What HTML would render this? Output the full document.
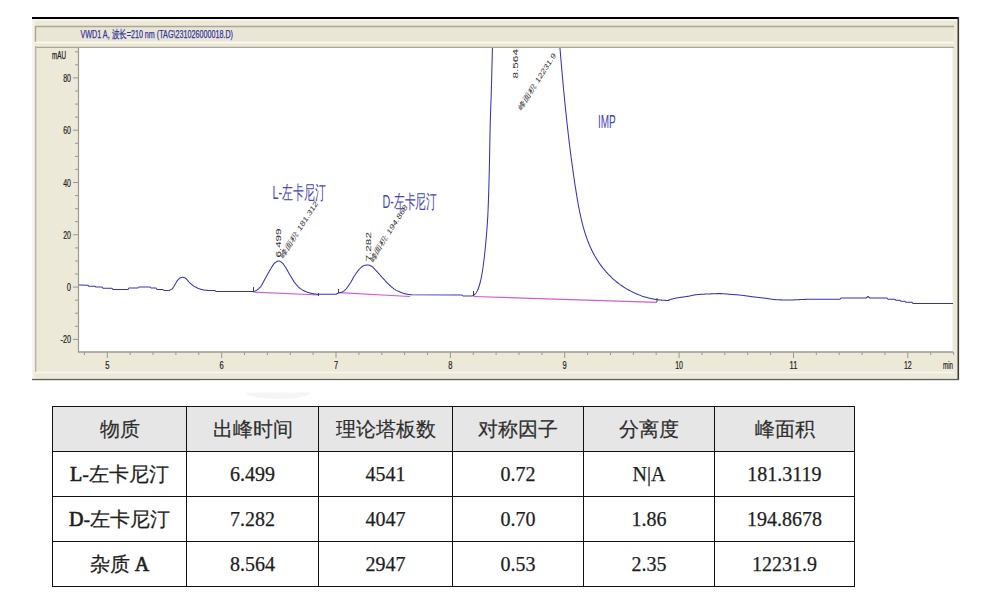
<!DOCTYPE html>
<html><head><meta charset="utf-8">
<style>
html,body{margin:0;padding:0;background:#fff;width:1003px;height:596px;overflow:hidden;position:relative}
svg{position:absolute;left:0;top:0}
.tb{position:absolute;left:52px;top:406px;border-collapse:collapse;font-family:"Liberation Serif",serif;color:#1e1e1e;-webkit-text-stroke:0.25px #1e1e1e}
.tb td{border:1.5px solid #111;height:45px;padding:0;text-align:center;font-size:20px;box-sizing:border-box}
.tb tr.h td{background:#e6e6e6;color:#2e2e2e;-webkit-text-stroke:0.2px #2e2e2e}
.tb .k{-webkit-text-stroke:0.7px #1e1e1e}
</style></head><body>
<svg width="1003" height="596" viewBox="0 0 1003 596">
<rect x="32" y="17" width="927" height="363" fill="#ece9d8"/>
<rect x="32" y="19" width="925" height="2" fill="#f6f4ea"/>
<rect x="32" y="19" width="2.5" height="360" fill="#f6f4ea"/>
<rect x="32" y="17" width="927" height="2" fill="#000"/>
<rect x="957.5" y="17" width="1.6" height="363" fill="#3c3c34"/>
<rect x="32" y="378.9" width="927" height="1.3" fill="#5e5e56"/>
<rect x="35.5" y="26.5" width="918" height="15" fill="#e9e6d6" stroke="none"/>
<line x1="35" y1="26.5" x2="954" y2="26.5" stroke="#aca899" stroke-width="1.5"/>
<line x1="35.5" y1="26" x2="35.5" y2="42" stroke="#aca899" stroke-width="1.5"/>
<line x1="35" y1="42.5" x2="954" y2="42.5" stroke="#fbfaf3" stroke-width="1.5"/>
<line x1="35" y1="47.4" x2="954" y2="47.4" stroke="#aca899" stroke-width="1.4"/>
<line x1="35.7" y1="46" x2="35.7" y2="372" stroke="#b9b6a8" stroke-width="1.5"/>
<line x1="35" y1="372.5" x2="954" y2="372.5" stroke="#f8f7ef" stroke-width="1.5"/>
<rect x="78.5" y="48.1" width="874" height="303.9" fill="#fff"/>
<line x1="78.5" y1="48" x2="78.5" y2="352.5" stroke="#9a9a92" stroke-width="1.2"/>
<line x1="78" y1="352" x2="953" y2="352" stroke="#9a9a92" stroke-width="1.5"/>
<g stroke="#999990" stroke-width="1">
<line x1="75" y1="51.8" x2="78" y2="51.8"/>
<line x1="75" y1="64.8" x2="78" y2="64.8"/>
<line x1="73" y1="77.9" x2="78" y2="77.9"/>
<line x1="75" y1="91.0" x2="78" y2="91.0"/>
<line x1="75" y1="104.1" x2="78" y2="104.1"/>
<line x1="75" y1="117.1" x2="78" y2="117.1"/>
<line x1="73" y1="130.2" x2="78" y2="130.2"/>
<line x1="75" y1="143.3" x2="78" y2="143.3"/>
<line x1="75" y1="156.4" x2="78" y2="156.4"/>
<line x1="75" y1="169.4" x2="78" y2="169.4"/>
<line x1="73" y1="182.5" x2="78" y2="182.5"/>
<line x1="75" y1="195.6" x2="78" y2="195.6"/>
<line x1="75" y1="208.7" x2="78" y2="208.7"/>
<line x1="75" y1="221.7" x2="78" y2="221.7"/>
<line x1="73" y1="234.8" x2="78" y2="234.8"/>
<line x1="75" y1="247.9" x2="78" y2="247.9"/>
<line x1="75" y1="261.0" x2="78" y2="261.0"/>
<line x1="75" y1="274.0" x2="78" y2="274.0"/>
<line x1="73" y1="287.1" x2="78" y2="287.1"/>
<line x1="75" y1="300.2" x2="78" y2="300.2"/>
<line x1="75" y1="313.2" x2="78" y2="313.2"/>
<line x1="75" y1="326.3" x2="78" y2="326.3"/>
<line x1="73" y1="339.4" x2="78" y2="339.4"/>
<line x1="84.4" y1="352" x2="84.4" y2="355"/>
<line x1="107.3" y1="352" x2="107.3" y2="358"/>
<line x1="130.2" y1="352" x2="130.2" y2="355"/>
<line x1="153.0" y1="352" x2="153.0" y2="355"/>
<line x1="175.9" y1="352" x2="175.9" y2="355"/>
<line x1="198.8" y1="352" x2="198.8" y2="355"/>
<line x1="221.7" y1="352" x2="221.7" y2="358"/>
<line x1="244.5" y1="352" x2="244.5" y2="355"/>
<line x1="267.4" y1="352" x2="267.4" y2="355"/>
<line x1="290.3" y1="352" x2="290.3" y2="355"/>
<line x1="313.1" y1="352" x2="313.1" y2="355"/>
<line x1="336.0" y1="352" x2="336.0" y2="358"/>
<line x1="358.9" y1="352" x2="358.9" y2="355"/>
<line x1="381.8" y1="352" x2="381.8" y2="355"/>
<line x1="404.6" y1="352" x2="404.6" y2="355"/>
<line x1="427.5" y1="352" x2="427.5" y2="355"/>
<line x1="450.4" y1="352" x2="450.4" y2="358"/>
<line x1="473.3" y1="352" x2="473.3" y2="355"/>
<line x1="496.1" y1="352" x2="496.1" y2="355"/>
<line x1="519.0" y1="352" x2="519.0" y2="355"/>
<line x1="541.9" y1="352" x2="541.9" y2="355"/>
<line x1="564.7" y1="352" x2="564.7" y2="358"/>
<line x1="587.6" y1="352" x2="587.6" y2="355"/>
<line x1="610.5" y1="352" x2="610.5" y2="355"/>
<line x1="633.4" y1="352" x2="633.4" y2="355"/>
<line x1="656.2" y1="352" x2="656.2" y2="355"/>
<line x1="679.1" y1="352" x2="679.1" y2="358"/>
<line x1="702.0" y1="352" x2="702.0" y2="355"/>
<line x1="724.8" y1="352" x2="724.8" y2="355"/>
<line x1="747.7" y1="352" x2="747.7" y2="355"/>
<line x1="770.6" y1="352" x2="770.6" y2="355"/>
<line x1="793.5" y1="352" x2="793.5" y2="358"/>
<line x1="816.3" y1="352" x2="816.3" y2="355"/>
<line x1="839.2" y1="352" x2="839.2" y2="355"/>
<line x1="862.1" y1="352" x2="862.1" y2="355"/>
<line x1="884.9" y1="352" x2="884.9" y2="355"/>
<line x1="907.8" y1="352" x2="907.8" y2="358"/>
<line x1="930.7" y1="352" x2="930.7" y2="355"/>
<line x1="953.6" y1="352" x2="953.6" y2="355"/>
</g>
<text x="80.5" y="38.2" font-family="Liberation Sans" font-size="10.5" fill="#3434a0" stroke="#3434a0" stroke-width="0.25" textLength="152.5" lengthAdjust="spacingAndGlyphs">VWD1 A, 波长=210 nm (TAG\231026000018.D)</text>
<g font-family="Liberation Sans" font-size="11" fill="#222" stroke="#222" stroke-width="0.2">
<text x="63.2" y="81.9" textLength="7.8" lengthAdjust="spacingAndGlyphs">80</text>
<text x="63.2" y="134.2" textLength="7.8" lengthAdjust="spacingAndGlyphs">60</text>
<text x="63.2" y="186.5" textLength="7.8" lengthAdjust="spacingAndGlyphs">40</text>
<text x="63.2" y="238.8" textLength="7.8" lengthAdjust="spacingAndGlyphs">20</text>
<text x="66.8" y="291.1" textLength="4.2" lengthAdjust="spacingAndGlyphs">0</text>
<text x="60.5" y="343.4" textLength="10.5" lengthAdjust="spacingAndGlyphs">-20</text>
</g>
<text x="52" y="59" font-family="Liberation Sans" font-size="10" fill="#222" stroke="#222" stroke-width="0.25" textLength="14" lengthAdjust="spacingAndGlyphs">mAU</text>
<g font-family="Liberation Sans" font-size="10.5" fill="#222" stroke="#222" stroke-width="0.2">
<text x="105.2" y="369" textLength="4.2" lengthAdjust="spacingAndGlyphs">5</text>
<text x="219.6" y="369" textLength="4.2" lengthAdjust="spacingAndGlyphs">6</text>
<text x="333.9" y="369" textLength="4.2" lengthAdjust="spacingAndGlyphs">7</text>
<text x="448.3" y="369" textLength="4.2" lengthAdjust="spacingAndGlyphs">8</text>
<text x="562.6" y="369" textLength="4.2" lengthAdjust="spacingAndGlyphs">9</text>
<text x="675.2" y="369" textLength="7.8" lengthAdjust="spacingAndGlyphs">10</text>
<text x="789.6" y="369" textLength="7.8" lengthAdjust="spacingAndGlyphs">11</text>
<text x="903.9" y="369" textLength="7.8" lengthAdjust="spacingAndGlyphs">12</text>
</g>
<text x="943" y="369" font-family="Liberation Sans" font-size="10" fill="#222" stroke="#222" stroke-width="0.2" textLength="10" lengthAdjust="spacingAndGlyphs">min</text>
<g stroke="#d35cd3" stroke-width="1.2" fill="none">
<polyline points="253,292 319,295"/>
<polyline points="338.6,292.6 410,296.5"/>
<polyline points="473.5,296.5 657,302.3"/>
</g>
<g stroke="#444" stroke-width="1">
<line x1="253.5" y1="287" x2="253.5" y2="292"/>
<line x1="318.5" y1="293" x2="318.5" y2="296"/>
<line x1="338.5" y1="289" x2="338.5" y2="293"/>
<line x1="473.5" y1="291" x2="473.5" y2="296"/>
<line x1="657" y1="298" x2="657" y2="302"/>
</g>
<clipPath id="pc"><rect x="79" y="48" width="874" height="304"/></clipPath>
<path clip-path="url(#pc)" d="M78.00,285.00 L88.00,285.30 L89.00,286.30 L95.00,286.30 L96.00,287.00 L102.00,287.00 L103.00,288.30 L112.00,288.30 L113.00,289.50 L128.00,289.50 L129.00,288.00 L138.00,288.00 L139.00,287.00 L150.00,287.00 L151.00,288.00 L156.00,288.00 L157.00,289.50 L163.00,289.50 L164.00,290.50 L168.00,290.50 L168.00,290.50 L168.50,290.47 L169.00,290.38 L169.50,290.24 L170.00,290.06 L170.50,289.84 L171.00,289.58 L171.50,289.30 L172.00,289.00 L172.50,288.56 L173.00,287.90 L173.50,287.09 L174.00,286.21 L174.50,285.32 L175.00,284.50 L175.50,283.69 L176.00,282.83 L176.50,281.97 L177.00,281.14 L177.50,280.41 L178.00,279.80 L178.50,279.29 L179.00,278.81 L179.50,278.39 L180.00,278.04 L180.50,277.80 L181.00,277.62 L181.50,277.46 L182.00,277.34 L182.50,277.30 L183.00,277.34 L183.50,277.45 L184.00,277.61 L184.50,277.80 L185.00,278.00 L185.50,278.27 L186.00,278.65 L186.50,279.11 L187.00,279.64 L187.50,280.22 L188.00,280.82 L188.50,281.41 L189.00,281.99 L189.50,282.53 L190.00,283.00 L190.50,283.43 L191.00,283.86 L191.50,284.28 L192.00,284.69 L192.50,285.09 L193.00,285.48 L193.50,285.84 L194.00,286.19 L194.50,286.51 L195.00,286.80 L195.50,287.07 L196.00,287.33 L196.50,287.59 L197.00,287.82 L197.50,288.05 L198.00,288.27 L198.50,288.47 L199.00,288.66 L199.50,288.84 L200.00,289.00 L200.50,289.16 L201.00,289.31 L201.50,289.46 L202.00,289.59 L202.50,289.72 L203.00,289.83 L203.50,289.92 L204.00,290.00 L204.50,290.06 L205.00,290.13 L205.50,290.19 L206.00,290.24 L206.50,290.30 L207.00,290.35 L207.50,290.39 L208.00,290.43 L208.50,290.46 L209.00,290.48 L209.50,290.50 L210.00,290.50 L210.50,290.50 L211.00,290.50 L211.50,290.50 L212.00,290.50 L212.50,290.50 L213.00,290.50 L213.50,290.50 L214.00,290.50 L214.50,290.50 L215.00,290.50 L216.00,291.50 L253.00,291.50 L253.00,291.50 L253.50,291.42 L254.00,291.31 L254.50,291.16 L255.00,291.00 L255.50,290.81 L256.00,290.57 L256.50,290.30 L257.00,290.00 L257.50,289.65 L258.00,289.28 L258.50,288.88 L259.00,288.44 L259.50,287.98 L260.00,287.50 L260.50,286.94 L261.00,286.26 L261.50,285.49 L262.00,284.63 L262.50,283.72 L263.00,282.77 L263.50,281.81 L264.00,280.84 L264.50,279.90 L265.00,279.00 L265.50,278.11 L266.00,277.20 L266.50,276.27 L267.00,275.34 L267.50,274.41 L268.00,273.48 L268.50,272.57 L269.00,271.68 L269.50,270.82 L270.00,270.00 L270.50,269.18 L271.00,268.35 L271.50,267.50 L272.00,266.67 L272.50,265.86 L273.00,265.10 L273.50,264.39 L274.00,263.76 L274.50,263.23 L275.00,262.80 L275.50,262.43 L276.00,262.07 L276.50,261.73 L277.00,261.44 L277.50,261.21 L278.00,261.05 L278.50,261.00 L279.00,261.05 L279.50,261.18 L280.00,261.38 L280.50,261.63 L281.00,261.93 L281.50,262.26 L282.00,262.60 L282.50,263.03 L283.00,263.59 L283.50,264.26 L284.00,264.99 L284.50,265.75 L285.00,266.50 L285.50,267.25 L286.00,268.05 L286.50,268.89 L287.00,269.75 L287.50,270.63 L288.00,271.52 L288.50,272.41 L289.00,273.29 L289.50,274.16 L290.00,275.00 L290.50,275.83 L291.00,276.68 L291.50,277.54 L292.00,278.39 L292.50,279.23 L293.00,280.06 L293.50,280.85 L294.00,281.62 L294.50,282.33 L295.00,283.00 L295.50,283.63 L296.00,284.25 L296.50,284.85 L297.00,285.42 L297.50,285.98 L298.00,286.51 L298.50,287.01 L299.00,287.47 L299.50,287.91 L300.00,288.30 L300.50,288.66 L301.00,289.01 L301.50,289.34 L302.00,289.65 L302.50,289.94 L303.00,290.22 L303.50,290.48 L304.00,290.73 L304.50,290.97 L305.00,291.20 L305.50,291.42 L306.00,291.63 L306.50,291.83 L307.00,292.03 L307.50,292.22 L308.00,292.39 L308.50,292.56 L309.00,292.72 L309.50,292.87 L310.00,293.00 L310.50,293.13 L311.00,293.25 L311.50,293.37 L312.00,293.49 L312.50,293.59 L313.00,293.69 L313.50,293.79 L314.00,293.87 L314.50,293.94 L315.00,294.00 L315.50,294.05 L316.00,294.10 L316.50,294.15 L317.00,294.19 L317.50,294.23 L318.00,294.26 L318.50,294.29 L319.00,294.30 L336.00,294.30 L336.00,294.30 L336.50,294.01 L337.00,293.74 L337.50,293.48 L338.00,293.25 L338.50,293.04 L339.00,292.86 L339.50,292.72 L340.00,292.59 L340.50,292.47 L341.00,292.34 L341.50,292.18 L342.00,292.00 L342.50,291.77 L343.00,291.49 L343.50,291.17 L344.00,290.81 L344.50,290.42 L345.00,290.00 L345.50,289.54 L346.00,289.01 L346.50,288.43 L347.00,287.80 L347.50,287.13 L348.00,286.44 L348.50,285.72 L349.00,284.98 L349.50,284.24 L350.00,283.50 L350.50,282.73 L351.00,281.91 L351.50,281.05 L352.00,280.15 L352.50,279.25 L353.00,278.35 L353.50,277.45 L354.00,276.59 L354.50,275.77 L355.00,275.00 L355.50,274.26 L356.00,273.53 L356.50,272.81 L357.00,272.10 L357.50,271.42 L358.00,270.76 L358.50,270.13 L359.00,269.54 L359.50,269.00 L360.00,268.50 L360.50,268.02 L361.00,267.54 L361.50,267.07 L362.00,266.64 L362.50,266.24 L363.00,265.91 L363.50,265.66 L364.00,265.50 L364.50,265.40 L365.00,265.30 L365.50,265.22 L366.00,265.14 L366.50,265.08 L367.00,265.04 L367.50,265.01 L368.00,265.00 L368.50,265.03 L369.00,265.13 L369.50,265.28 L370.00,265.47 L370.50,265.70 L371.00,265.95 L371.50,266.22 L372.00,266.50 L372.50,266.84 L373.00,267.29 L373.50,267.82 L374.00,268.38 L374.50,268.95 L375.00,269.50 L375.50,270.03 L376.00,270.56 L376.50,271.11 L377.00,271.66 L377.50,272.21 L378.00,272.77 L378.50,273.33 L379.00,273.89 L379.50,274.45 L380.00,275.00 L380.50,275.55 L381.00,276.11 L381.50,276.67 L382.00,277.23 L382.50,277.78 L383.00,278.34 L383.50,278.89 L384.00,279.43 L384.50,279.97 L385.00,280.50 L385.50,281.02 L386.00,281.55 L386.50,282.07 L387.00,282.59 L387.50,283.10 L388.00,283.60 L388.50,284.10 L389.00,284.58 L389.50,285.05 L390.00,285.50 L390.50,285.94 L391.00,286.39 L391.50,286.82 L392.00,287.25 L392.50,287.67 L393.00,288.08 L393.50,288.46 L394.00,288.83 L394.50,289.18 L395.00,289.50 L395.50,289.80 L396.00,290.09 L396.50,290.36 L397.00,290.62 L397.50,290.87 L398.00,291.11 L398.50,291.34 L399.00,291.57 L399.50,291.79 L400.00,292.00 L400.50,292.21 L401.00,292.42 L401.50,292.63 L402.00,292.83 L402.50,293.02 L403.00,293.20 L403.50,293.36 L404.00,293.50 L404.50,293.63 L405.00,293.75 L405.50,293.87 L406.00,293.98 L406.50,294.08 L407.00,294.18 L407.50,294.27 L408.00,294.36 L408.50,294.43 L409.00,294.50 L409.50,294.56 L410.00,294.62 L410.50,294.68 L411.00,294.72 L411.50,294.77 L412.00,294.80 L462.00,295.00 L463.00,296.00 L472.00,296.00 L472.00,296.00 L473.16,295.50 L473.99,295.00 L474.62,294.50 L475.16,294.00 L475.61,293.50 L476.00,293.00 L476.35,292.50 L476.66,292.00 L476.95,291.50 L477.22,291.00 L477.47,290.50 L477.69,290.00 L477.90,289.50 L478.10,289.00 L478.29,288.50 L478.47,288.00 L478.65,287.50 L478.82,287.00 L478.99,286.50 L479.15,286.00 L479.31,285.50 L479.46,285.00 L479.61,284.50 L479.75,284.00 L479.89,283.50 L480.03,283.00 L480.16,282.50 L480.29,282.00 L480.41,281.50 L480.53,281.00 L480.65,280.50 L480.77,280.00 L480.88,279.50 L480.99,279.00 L481.10,278.50 L481.20,278.00 L481.30,277.50 L481.40,277.00 L481.50,276.50 L481.59,276.00 L481.69,275.50 L481.78,275.00 L481.87,274.50 L481.96,274.00 L482.05,273.50 L482.13,273.00 L482.22,272.50 L482.30,272.00 L482.38,271.50 L482.46,271.00 L482.54,270.50 L482.62,270.00 L482.69,269.50 L482.77,269.00 L482.84,268.50 L482.91,268.00 L482.99,267.50 L483.06,267.00 L483.13,266.50 L483.19,266.00 L483.26,265.50 L483.33,265.00 L483.40,264.50 L483.46,264.00 L483.53,263.50 L483.59,263.00 L483.65,262.50 L483.72,262.00 L483.78,261.50 L483.84,261.00 L483.90,260.50 L483.96,260.00 L484.02,259.50 L484.08,259.00 L484.14,258.50 L484.20,258.00 L484.26,257.50 L484.32,257.00 L484.37,256.50 L484.43,256.00 L484.49,255.50 L484.55,255.00 L484.60,254.50 L484.66,254.00 L484.71,253.50 L484.77,253.00 L484.82,252.50 L484.87,252.00 L484.93,251.50 L484.98,251.00 L485.03,250.50 L485.08,250.00 L485.13,249.50 L485.18,249.00 L485.23,248.50 L485.28,248.00 L485.33,247.50 L485.38,247.00 L485.43,246.50 L485.48,246.00 L485.53,245.50 L485.57,245.00 L485.62,244.50 L485.67,244.00 L485.71,243.50 L485.76,243.00 L485.80,242.50 L485.85,242.00 L485.89,241.50 L485.94,241.00 L485.98,240.50 L486.02,240.00 L486.07,239.50 L486.11,239.00 L486.15,238.50 L486.19,238.00 L486.24,237.50 L486.28,237.00 L486.32,236.50 L486.36,236.00 L486.40,235.50 L486.44,235.00 L486.48,234.50 L486.52,234.00 L486.56,233.50 L486.60,233.00 L486.64,232.50 L486.68,232.00 L486.72,231.50 L486.76,231.00 L486.80,230.50 L486.84,230.00 L486.88,229.50 L486.92,229.00 L486.96,228.50 L486.99,228.00 L487.03,227.50 L487.07,227.00 L487.11,226.50 L487.14,226.00 L487.18,225.50 L487.22,225.00 L487.25,224.50 L487.29,224.00 L487.32,223.50 L487.36,223.00 L487.39,222.50 L487.43,222.00 L487.46,221.50 L487.49,221.00 L487.52,220.50 L487.56,220.00 L487.59,219.50 L487.62,219.00 L487.65,218.50 L487.68,218.00 L487.71,217.50 L487.73,217.00 L487.76,216.50 L487.79,216.00 L487.81,215.50 L487.84,215.00 L487.86,214.50 L487.89,214.00 L487.91,213.50 L487.93,213.00 L487.95,212.50 L487.98,212.00 L488.00,211.50 L488.02,211.00 L488.04,210.50 L488.06,210.00 L488.08,209.50 L488.10,209.00 L488.13,208.50 L488.15,208.00 L488.17,207.50 L488.19,207.00 L488.21,206.50 L488.23,206.00 L488.25,205.50 L488.26,205.00 L488.28,204.50 L488.30,204.00 L488.32,203.50 L488.34,203.00 L488.36,202.50 L488.38,202.00 L488.39,201.50 L488.41,201.00 L488.43,200.50 L488.45,200.00 L488.47,199.50 L488.48,199.00 L488.50,198.50 L488.52,198.00 L488.53,197.50 L488.55,197.00 L488.57,196.50 L488.58,196.00 L488.60,195.50 L488.62,195.00 L488.63,194.50 L488.65,194.00 L488.66,193.50 L488.68,193.00 L488.69,192.50 L488.71,192.00 L488.72,191.50 L488.74,191.00 L488.75,190.50 L488.77,190.00 L488.78,189.50 L488.80,189.00 L488.81,188.50 L488.83,188.00 L488.84,187.50 L488.86,187.00 L488.87,186.50 L488.89,186.00 L488.90,185.50 L488.91,185.00 L488.93,184.50 L488.94,184.00 L488.95,183.50 L488.97,183.00 L488.98,182.50 L488.99,182.00 L489.01,181.50 L489.02,181.00 L489.03,180.50 L489.05,180.00 L489.06,179.50 L489.07,179.00 L489.09,178.50 L489.10,178.00 L489.11,177.50 L489.12,177.00 L489.14,176.50 L489.15,176.00 L489.16,175.50 L489.18,175.00 L489.19,174.50 L489.20,174.00 L489.21,173.50 L489.23,173.00 L489.24,172.50 L489.25,172.00 L489.26,171.50 L489.28,171.00 L489.29,170.50 L489.30,170.00 L489.31,169.50 L489.32,169.00 L489.34,168.50 L489.35,168.00 L489.36,167.50 L489.37,167.00 L489.38,166.50 L489.39,166.00 L489.40,165.50 L489.42,165.00 L489.43,164.50 L489.44,164.00 L489.45,163.50 L489.46,163.00 L489.47,162.50 L489.48,162.00 L489.49,161.50 L489.50,161.00 L489.51,160.50 L489.52,160.00 L489.53,159.50 L489.54,159.00 L489.55,158.50 L489.56,158.00 L489.57,157.50 L489.58,157.00 L489.59,156.50 L489.60,156.00 L489.61,155.50 L489.61,155.00 L489.62,154.50 L489.63,154.00 L489.64,153.50 L489.65,153.00 L489.66,152.50 L489.67,152.00 L489.68,151.50 L489.69,151.00 L489.70,150.50 L489.70,150.00 L489.71,149.50 L489.72,149.00 L489.73,148.50 L489.74,148.00 L489.75,147.50 L489.76,147.00 L489.77,146.50 L489.78,146.00 L489.78,145.50 L489.79,145.00 L489.80,144.50 L489.81,144.00 L489.82,143.50 L489.83,143.00 L489.84,142.50 L489.85,142.00 L489.86,141.50 L489.86,141.00 L489.87,140.50 L489.88,140.00 L489.89,139.50 L489.90,139.00 L489.91,138.50 L489.92,138.00 L489.93,137.50 L489.94,137.00 L489.95,136.50 L489.96,136.00 L489.97,135.50 L489.98,135.00 L489.99,134.50 L490.00,134.00 L490.01,133.50 L490.02,133.00 L490.03,132.50 L490.04,132.00 L490.05,131.50 L490.06,131.00 L490.07,130.50 L490.08,130.00 L490.09,129.50 L490.11,129.00 L490.12,128.50 L490.13,128.00 L490.14,127.50 L490.15,127.00 L490.16,126.50 L490.18,126.00 L490.19,125.50 L490.20,125.00 L490.21,124.50 L490.23,124.00 L490.24,123.50 L490.25,123.00 L490.27,122.50 L490.28,122.00 L490.29,121.50 L490.31,121.00 L490.32,120.50 L490.34,120.00 L490.35,119.50 L490.37,119.00 L490.38,118.50 L490.40,118.00 L490.41,117.50 L490.43,117.00 L490.44,116.50 L490.46,116.00 L490.47,115.50 L490.49,115.00 L490.51,114.50 L490.52,114.00 L490.54,113.50 L490.56,113.00 L490.57,112.50 L490.59,112.00 L490.61,111.50 L490.62,111.00 L490.64,110.50 L490.66,110.00 L490.68,109.50 L490.69,109.00 L490.71,108.50 L490.73,108.00 L490.75,107.50 L490.76,107.00 L490.78,106.50 L490.80,106.00 L490.82,105.50 L490.84,105.00 L490.85,104.50 L490.87,104.00 L490.89,103.50 L490.91,103.00 L490.92,102.50 L490.94,102.00 L490.96,101.50 L490.98,101.00 L491.00,100.50 L491.01,100.00 L491.03,99.50 L491.05,99.00 L491.07,98.50 L491.08,98.00 L491.10,97.50 L491.12,97.00 L491.14,96.50 L491.15,96.00 L491.17,95.50 L491.19,95.00 L491.20,94.50 L491.22,94.00 L491.24,93.50 L491.25,93.00 L491.27,92.50 L491.29,92.00 L491.30,91.50 L491.32,91.00 L491.34,90.50 L491.35,90.00 L491.37,89.50 L491.38,89.00 L491.40,88.50 L491.41,88.00 L491.43,87.50 L491.44,87.00 L491.46,86.50 L491.47,86.00 L491.49,85.50 L491.50,85.00 L491.51,84.50 L491.53,84.00 L491.54,83.50 L491.55,83.00 L491.57,82.50 L491.58,82.00 L491.59,81.50 L491.61,81.00 L491.62,80.50 L491.63,80.00 L491.65,79.50 L491.66,79.00 L491.67,78.50 L491.69,78.00 L491.70,77.50 L491.71,77.00 L491.72,76.50 L491.74,76.00 L491.75,75.50 L491.76,75.00 L491.77,74.50 L491.79,74.00 L491.80,73.50 L491.81,73.00 L491.82,72.50 L491.83,72.00 L491.85,71.50 L491.86,71.00 L491.87,70.50 L491.88,70.00 L491.89,69.50 L491.91,69.00 L491.92,68.50 L491.93,68.00 L491.94,67.50 L491.95,67.00 L491.96,66.50 L491.98,66.00 L491.99,65.50 L492.00,65.00 L492.01,64.50 L492.02,64.00 L492.03,63.50 L492.05,63.00 L492.06,62.50 L492.07,62.00 L492.08,61.50 L492.09,61.00 L492.10,60.50 L492.11,60.00 L492.13,59.50 L492.14,59.00 L492.15,58.50 L492.16,58.00 L492.17,57.50 L492.18,57.00 L492.20,56.50 L492.21,56.00 L492.22,55.50 L492.23,55.00 L492.24,54.50 L492.26,54.00 L492.27,53.50 L492.28,53.00 L492.29,52.50 L492.30,52.00 L492.31,51.50 L492.33,51.00 L492.34,50.50 L492.35,50.00 L492.36,49.50 L492.38,49.00 L492.39,48.50 L492.40,48.00 L492.41,47.50 L492.42,47.00 L492.44,46.50 L492.45,46.00 L492.46,45.50 L492.47,45.00 L492.49,44.50 L492.50,44.00 L492.51,43.50 L492.52,43.00 L492.54,42.50 L492.55,42.00 L492.56,41.50 L492.57,41.00 L492.59,40.50 L492.60,40.00 L559.60,40.00 L559.30,39.94 L559.36,40.73 L559.42,41.52 L559.49,42.31 L559.55,43.09 L559.62,43.88 L559.68,44.67 L559.75,45.46 L559.81,46.24 L559.88,47.03 L559.95,47.81 L560.01,48.60 L560.08,49.38 L560.14,50.17 L560.21,50.95 L560.27,51.73 L560.34,52.52 L560.40,53.30 L560.47,54.08 L560.54,54.87 L560.60,55.65 L560.67,56.43 L560.73,57.21 L560.80,57.99 L560.87,58.77 L560.93,59.55 L561.00,60.33 L561.07,61.11 L561.13,61.89 L561.20,62.67 L561.27,63.45 L561.33,64.22 L561.40,65.00 L561.47,65.78 L561.54,66.56 L561.60,67.33 L561.67,68.11 L561.74,68.89 L561.81,69.66 L561.88,70.44 L561.94,71.21 L562.01,71.99 L562.08,72.76 L562.15,73.54 L562.22,74.31 L562.29,75.09 L562.36,75.86 L562.43,76.63 L562.50,77.41 L562.57,78.18 L562.64,78.95 L562.71,79.73 L562.78,80.50 L562.85,81.27 L562.92,82.04 L562.99,82.81 L563.06,83.59 L563.13,84.36 L563.20,85.13 L563.27,85.90 L563.34,86.67 L563.42,87.44 L563.49,88.21 L563.56,88.98 L563.63,89.75 L563.70,90.52 L563.78,91.29 L563.85,92.06 L563.92,92.83 L564.00,93.60 L564.07,94.37 L564.15,95.14 L564.22,95.90 L564.29,96.67 L564.37,97.44 L564.44,98.21 L564.52,98.98 L564.59,99.75 L564.67,100.51 L564.75,101.28 L564.82,102.05 L564.90,102.82 L564.97,103.58 L565.05,104.35 L565.13,105.12 L565.21,105.88 L565.28,106.65 L565.36,107.42 L565.44,108.19 L565.52,108.95 L565.60,109.72 L565.68,110.48 L565.75,111.25 L565.83,112.02 L565.91,112.78 L565.99,113.55 L566.07,114.32 L566.16,115.08 L566.24,115.85 L566.32,116.61 L566.40,117.38 L566.48,118.15 L566.56,118.91 L566.65,119.68 L566.73,120.44 L566.81,121.21 L566.90,121.97 L566.98,122.74 L567.06,123.51 L567.15,124.27 L567.23,125.04 L567.32,125.80 L567.40,126.57 L567.49,127.33 L567.57,128.10 L567.66,128.87 L567.75,129.63 L567.84,130.40 L567.92,131.16 L568.01,131.93 L568.10,132.70 L568.19,133.46 L568.28,134.23 L568.37,134.99 L568.45,135.76 L568.54,136.52 L568.64,137.29 L568.73,138.06 L568.82,138.82 L568.91,139.59 L569.00,140.36 L569.09,141.12 L569.19,141.89 L569.28,142.66 L569.37,143.42 L569.47,144.19 L569.56,144.96 L569.65,145.72 L569.75,146.49 L569.85,147.26 L569.94,148.03 L570.04,148.79 L570.13,149.56 L570.23,150.33 L570.33,151.10 L570.43,151.86 L570.52,152.63 L570.62,153.40 L570.72,154.17 L570.82,154.94 L570.92,155.71 L571.02,156.47 L571.12,157.24 L571.23,158.01 L571.33,158.78 L571.43,159.55 L571.53,160.32 L571.64,161.09 L571.74,161.86 L571.84,162.63 L571.95,163.40 L572.05,164.17 L572.16,164.94 L572.26,165.71 L572.37,166.49 L572.48,167.26 L572.59,168.03 L572.69,168.80 L572.80,169.57 L572.91,170.34 L573.02,171.12 L573.13,171.89 L573.24,172.66 L573.35,173.44 L573.46,174.21 L573.57,174.98 L573.69,175.76 L573.80,176.53 L573.91,177.31 L574.03,178.08 L574.14,178.86 L574.26,179.63 L574.37,180.41 L574.49,181.18 L574.60,181.96 L574.72,182.74 L574.84,183.51 L574.96,184.29 L575.07,185.07 L575.19,185.84 L575.31,186.62 L575.43,187.40 L575.55,188.18 L575.68,188.96 L575.80,189.74 L575.92,190.52 L576.04,191.30 L576.17,192.08 L576.29,192.86 L576.42,193.64 L576.54,194.42 L576.67,195.20 L576.80,195.98 L576.93,196.76 L577.06,197.54 L577.19,198.32 L577.32,199.10 L577.45,199.88 L577.58,200.66 L577.72,201.44 L577.86,202.22 L578.00,203.00 L578.13,203.78 L578.28,204.56 L578.42,205.34 L578.56,206.12 L578.71,206.90 L578.85,207.68 L579.00,208.45 L579.15,209.23 L579.31,210.00 L579.46,210.78 L579.62,211.55 L579.78,212.33 L579.94,213.10 L580.10,213.87 L580.26,214.64 L580.43,215.42 L580.60,216.19 L580.77,216.95 L580.95,217.72 L581.12,218.49 L581.30,219.25 L581.48,220.02 L581.66,220.78 L581.85,221.54 L582.04,222.31 L582.23,223.07 L582.43,223.82 L582.62,224.58 L582.82,225.34 L583.02,226.09 L583.23,226.84 L583.44,227.60 L583.65,228.35 L583.87,229.09 L584.08,229.84 L584.31,230.59 L584.53,231.33 L584.76,232.07 L584.99,232.81 L585.22,233.55 L585.46,234.29 L585.70,235.02 L585.95,235.76 L586.20,236.49 L586.45,237.22 L586.71,237.94 L586.97,238.67 L587.23,239.39 L587.50,240.11 L587.77,240.83 L588.05,241.55 L588.33,242.26 L588.61,242.97 L588.90,243.68 L589.19,244.39 L589.49,245.10 L589.79,245.80 L590.09,246.50 L590.40,247.20 L590.71,247.89 L591.03,248.59 L591.35,249.28 L591.68,249.96 L592.01,250.65 L592.35,251.33 L592.69,252.01 L593.04,252.69 L593.39,253.36 L593.75,254.03 L594.11,254.70 L594.47,255.36 L594.84,256.03 L595.22,256.68 L595.60,257.34 L595.99,257.99 L596.38,258.64 L596.78,259.29 L597.18,259.93 L597.59,260.57 L598.00,261.21 L598.42,261.84 L598.84,262.47 L599.27,263.10 L599.71,263.72 L600.15,264.34 L600.59,264.96 L601.04,265.57 L601.50,266.18 L601.96,266.79 L602.42,267.39 L602.89,267.99 L603.37,268.58 L603.85,269.17 L604.33,269.76 L604.82,270.34 L605.32,270.92 L605.82,271.49 L606.32,272.06 L606.83,272.62 L607.35,273.19 L607.87,273.74 L608.39,274.29 L608.92,274.84 L609.45,275.39 L609.99,275.93 L610.54,276.46 L611.08,276.99 L611.64,277.52 L612.19,278.04 L612.76,278.55 L613.32,279.07 L613.89,279.57 L614.47,280.07 L615.05,280.57 L615.63,281.06 L616.22,281.55 L616.82,282.03 L617.42,282.51 L618.02,282.98 L618.63,283.45 L619.24,283.91 L619.85,284.36 L620.47,284.82 L621.10,285.26 L621.72,285.70 L622.36,286.14 L622.99,286.56 L623.64,286.99 L624.28,287.41 L624.93,287.82 L625.58,288.22 L626.24,288.63 L626.90,289.02 L627.57,289.41 L628.24,289.79 L628.91,290.17 L629.59,290.54 L630.27,290.91 L630.96,291.27 L631.65,291.62 L632.34,291.97 L633.04,292.31 L633.74,292.64 L634.45,292.97 L635.16,293.29 L635.87,293.61 L636.59,293.92 L637.31,294.22 L638.03,294.52 L638.76,294.80 L639.49,295.09 L640.23,295.36 L640.97,295.63 L641.71,295.90 L642.45,296.15 L643.20,296.40 L643.96,296.64 L644.71,296.88 L645.47,297.11 L646.24,297.33 L647.00,297.54 L647.77,297.75 L648.55,297.95 L649.33,298.14 L650.11,298.32 L650.89,298.50 L651.68,298.67 L652.47,298.83 L653.26,298.99 L654.06,299.14 L654.86,299.28 L655.66,299.41 L656.47,299.54 L657.28,299.65 L658.09,299.76 L658.91,299.86 L659.73,299.96 L660.55,300.04 L661.37,300.12 L662.20,300.19 L663.03,300.25 L663.87,300.31 L664.70,300.35 L665.54,300.39 L666.39,300.42 L667.23,300.44 L668.08,300.45 L668.93,300.46 L668.00,300.30 L668.50,300.13 L669.00,299.97 L669.50,299.81 L670.00,299.65 L670.50,299.49 L671.00,299.34 L671.50,299.19 L672.00,299.05 L672.50,298.91 L673.00,298.77 L673.50,298.64 L674.00,298.52 L674.50,298.41 L675.00,298.30 L675.50,298.20 L676.00,298.10 L676.50,298.01 L677.00,297.92 L677.50,297.84 L678.00,297.75 L678.50,297.68 L679.00,297.60 L679.50,297.52 L680.00,297.45 L680.50,297.38 L681.00,297.31 L681.50,297.24 L682.00,297.17 L682.50,297.11 L683.00,297.04 L683.50,296.97 L684.00,296.90 L684.50,296.83 L685.00,296.76 L685.50,296.69 L686.00,296.62 L686.50,296.54 L687.00,296.46 L687.50,296.38 L688.00,296.30 L688.50,296.21 L689.00,296.12 L689.50,296.01 L690.00,295.91 L690.50,295.80 L691.00,295.69 L691.50,295.58 L692.00,295.47 L692.50,295.36 L693.00,295.25 L693.50,295.14 L694.00,295.04 L694.50,294.95 L695.00,294.86 L695.50,294.78 L696.00,294.71 L696.50,294.65 L697.00,294.60 L697.50,294.56 L698.00,294.52 L698.50,294.48 L699.00,294.44 L699.50,294.41 L700.00,294.37 L700.50,294.34 L701.00,294.31 L701.50,294.28 L702.00,294.25 L702.50,294.22 L703.00,294.20 L703.50,294.17 L704.00,294.15 L704.50,294.12 L705.00,294.10 L705.50,294.08 L706.00,294.06 L706.50,294.04 L707.00,294.02 L707.50,294.00 L708.00,293.98 L708.50,293.96 L709.00,293.94 L709.50,293.92 L710.00,293.90 L710.50,293.88 L711.00,293.86 L711.50,293.84 L712.00,293.82 L712.50,293.80 L713.00,293.78 L713.50,293.76 L714.00,293.74 L714.50,293.72 L715.00,293.70 L715.50,293.69 L716.00,293.67 L716.50,293.65 L717.00,293.64 L717.50,293.63 L718.00,293.62 L718.50,293.61 L719.00,293.60 L719.50,293.60 L720.00,293.60 L720.50,293.60 L721.00,293.61 L721.50,293.63 L722.00,293.65 L722.50,293.67 L723.00,293.70 L723.50,293.74 L724.00,293.77 L724.50,293.81 L725.00,293.86 L725.50,293.90 L726.00,293.94 L726.50,293.99 L727.00,294.04 L727.50,294.08 L728.00,294.13 L728.50,294.18 L729.00,294.22 L729.50,294.26 L730.00,294.30 L730.50,294.34 L731.00,294.38 L731.50,294.41 L732.00,294.45 L732.50,294.49 L733.00,294.53 L733.50,294.56 L734.00,294.60 L734.50,294.64 L735.00,294.68 L735.50,294.72 L736.00,294.76 L736.50,294.80 L737.00,294.84 L737.50,294.88 L738.00,294.92 L738.50,294.96 L739.00,295.01 L739.50,295.05 L740.00,295.10 L740.50,295.15 L741.00,295.20 L741.50,295.25 L742.00,295.30 L742.50,295.35 L743.00,295.41 L743.50,295.47 L744.00,295.54 L744.50,295.61 L745.00,295.68 L745.50,295.75 L746.00,295.82 L746.50,295.90 L747.00,295.97 L747.50,296.05 L748.00,296.13 L748.50,296.20 L749.00,296.28 L749.50,296.35 L750.00,296.43 L750.50,296.50 L751.00,296.57 L751.50,296.64 L752.00,296.70 L752.50,296.76 L753.00,296.83 L753.50,296.89 L754.00,296.95 L754.50,297.01 L755.00,297.06 L755.50,297.12 L756.00,297.18 L756.50,297.24 L757.00,297.29 L757.50,297.35 L758.00,297.41 L758.50,297.46 L759.00,297.52 L759.50,297.57 L760.00,297.63 L760.50,297.69 L761.00,297.74 L761.50,297.80 L762.00,297.85 L762.50,297.91 L763.00,297.97 L763.50,298.02 L764.00,298.08 L764.50,298.14 L765.00,298.20 L765.50,298.26 L766.00,298.33 L766.50,298.39 L767.00,298.46 L767.50,298.54 L768.00,298.61 L768.50,298.69 L769.00,298.76 L769.50,298.84 L770.00,298.92 L770.50,299.00 L771.00,299.07 L771.50,299.15 L772.00,299.22 L772.50,299.29 L773.00,299.36 L773.50,299.42 L774.00,299.48 L774.50,299.54 L775.00,299.60 L775.50,299.64 L776.00,299.69 L776.50,299.73 L777.00,299.76 L777.50,299.78 L778.00,299.80 L778.50,299.81 L779.00,299.83 L779.50,299.84 L780.00,299.86 L780.50,299.87 L781.00,299.88 L781.50,299.89 L782.00,299.90 L782.50,299.91 L783.00,299.92 L783.50,299.93 L784.00,299.94 L784.50,299.95 L785.00,299.96 L785.50,299.97 L786.00,299.97 L786.50,299.98 L787.00,299.99 L787.50,299.99 L788.00,299.99 L788.50,300.00 L789.00,300.00 L789.50,300.00 L790.00,300.00 L790.50,300.00 L791.00,299.99 L791.50,299.98 L792.00,299.97 L792.50,299.96 L793.00,299.94 L793.50,299.92 L794.00,299.90 L794.50,299.87 L795.00,299.85 L795.50,299.82 L796.00,299.80 L796.50,299.77 L797.00,299.75 L797.50,299.72 L798.00,299.69 L798.50,299.67 L799.00,299.64 L799.50,299.62 L800.00,299.60 L800.50,299.58 L801.00,299.56 L801.50,299.54 L802.00,299.52 L802.50,299.50 L803.00,299.48 L803.50,299.46 L804.00,299.44 L804.50,299.42 L805.00,299.40 L805.50,299.38 L806.00,299.36 L806.50,299.34 L807.00,299.32 L807.50,299.30 L808.00,299.28 L808.50,299.26 L809.00,299.24 L809.50,299.22 L810.00,299.20 L840.00,299.20 L841.00,298.00 L866.00,298.00 L868.00,296.50 L870.00,298.00 L887.00,298.00 L888.00,299.30 L895.00,299.30 L896.00,300.30 L900.00,300.30 L901.00,301.30 L905.00,301.30 L906.00,302.30 L912.00,302.30 L913.00,303.50 L953.00,303.50" fill="none" stroke="#3333b8" stroke-width="1.05" stroke-linejoin="round"/>
<g font-family="Liberation Sans" fill="#4444b8">
<text x="272.5" y="198.5" font-size="19" textLength="53" lengthAdjust="spacingAndGlyphs">L-左卡尼汀</text>
<text x="382.5" y="208" font-size="19" textLength="54.5" lengthAdjust="spacingAndGlyphs">D-左卡尼汀</text>
<text x="598" y="127.5" font-size="18" textLength="17.8" lengthAdjust="spacingAndGlyphs">IMP</text>
</g>
<g font-family="Liberation Sans" fill="#303030" font-size="7">
<text transform="translate(280.5,257.5) rotate(-90)" textLength="29" lengthAdjust="spacingAndGlyphs">6.499</text>
<text transform="translate(283,259) rotate(-57.5)" textLength="66" lengthAdjust="spacingAndGlyphs" font-style="italic">峰面积: 181.312</text>
<text transform="translate(370.8,261.5) rotate(-90)" textLength="29.5" lengthAdjust="spacingAndGlyphs">7.282</text>
<text transform="translate(372.5,262.5) rotate(-57.5)" textLength="66" lengthAdjust="spacingAndGlyphs" font-style="italic">峰面积: 194.868</text>
<text transform="translate(518,78.5) rotate(-90)" textLength="29.5" lengthAdjust="spacingAndGlyphs">8.564</text>
<text transform="translate(521,111) rotate(-57.5)" textLength="66" lengthAdjust="spacingAndGlyphs" font-style="italic">峰面积: 12231.9</text>
</g>
<ellipse cx="278" cy="393" rx="32" ry="6" fill="#f5f5f5"/>
<rect x="200" y="380.5" width="200" height="12" fill="#fff"/>
</svg>
<table class="tb">
<colgroup><col style="width:134px"><col style="width:132px"><col style="width:134px"><col style="width:131px"><col style="width:131px"><col style="width:140px"></colgroup>
<tr class="h"><td>物质</td><td>出峰时间</td><td>理论塔板数</td><td>对称因子</td><td>分离度</td><td>峰面积</td></tr>
<tr><td><span class="k">L</span>-左卡尼汀</td><td>6.499</td><td>4541</td><td>0.72</td><td>N|A</td><td>181.3119</td></tr>
<tr><td><span class="k">D</span>-左卡尼汀</td><td>7.282</td><td>4047</td><td>0.70</td><td>1.86</td><td>194.8678</td></tr>
<tr><td>杂质 <span class="k">A</span></td><td>8.564</td><td>2947</td><td>0.53</td><td>2.35</td><td>12231.9</td></tr>
</table>
</body></html>
